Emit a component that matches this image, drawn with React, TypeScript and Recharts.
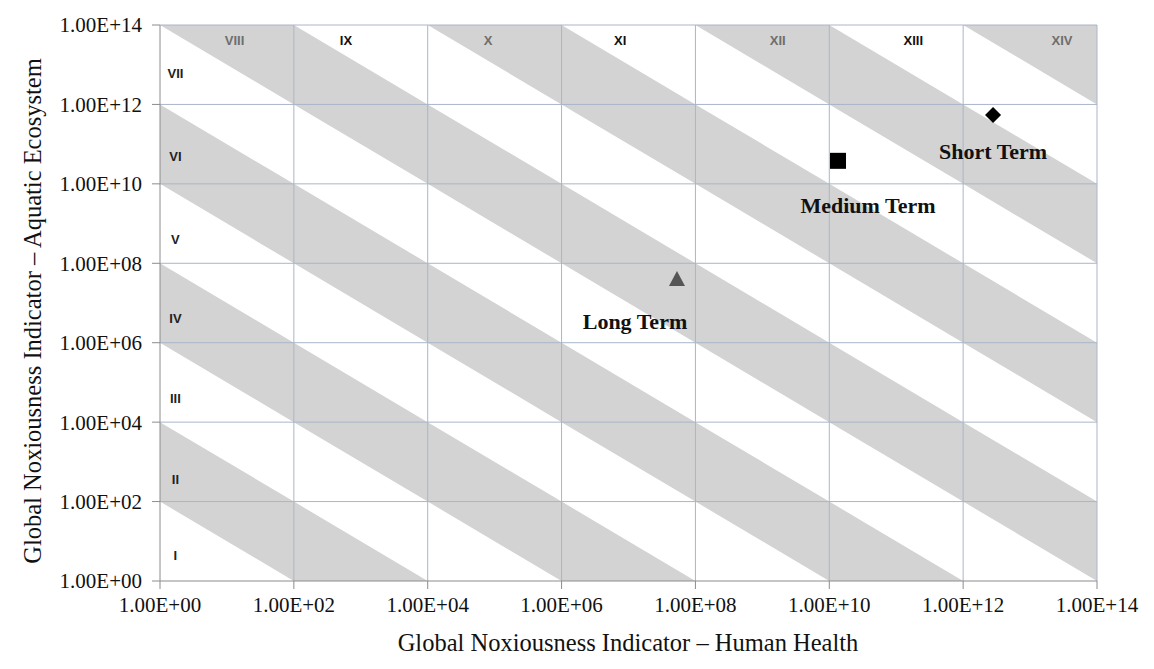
import {
  ComposedChart, Area, Scatter, XAxis, YAxis, ReferenceLine, ReferenceDot,
} from 'recharts';

// axis decades (both axes)
const decadeTicks = [1, 1e2, 1e4, 1e6, 1e8, 1e10, 1e12, 1e14];

// shaded classes, bounds in log10(HH x AE)
const grayClasses = [
  { name: 'II', lo: 2, hi: 4 },
  { name: 'IV', lo: 6, hi: 8 },
  { name: 'VI', lo: 10, hi: 12 },
  { name: 'VIII', lo: 14, hi: 16 },
  { name: 'X', lo: 18, hi: 20 },
  { name: 'XII', lo: 22, hi: 24 },
  { name: 'XIV', lo: 26, hi: 28 },
];

// class labels down the left side (I - VII) and along the top (VIII - XIV)
const sideLabels = ['I', 'II', 'III', 'IV', 'V', 'VI', 'VII'];
const sideLabelY = [4.5, 3.5e2, 4e4, 4e6, 4e8, 5e10, 6e12];
const topLabels = ['VIII', 'IX', 'X', 'XI', 'XII', 'XIII', 'XIV'];
const topLabelX = [1.3e1, 6e2, 8e4, 7.5e6, 1.7e9, 1.8e11, 3e13];

// scenarios
const longTerm = [{ x: 5.3e7, y: 4.0e7, name: 'Long Term' }];
const mediumTerm = [{ x: 1.35e10, y: 3.8e10, name: 'Medium Term' }];
const shortTerm = [{ x: 2.8e12, y: 5.4e11, name: 'Short Term' }];

const SERIF = '"Liberation Serif", "Times New Roman", serif';
const SANS = '"Liberation Sans", Arial, sans-serif';
const GRID = '#a9b6c8';
const AXIS = '#8c8c8c';
const BAND = '#d3d3d3';

const clamp = (v: number) => Math.min(1e14, Math.max(1, v));

const bandRows = decadeTicks.map((x) => {
  const row: Record<string, any> = { x };
  for (const c of grayClasses) row[c.name] = [clamp(10 ** c.lo / x), clamp(10 ** c.hi / x)];
  return row;
});

const fmt = (v: number) => {
  const e = Math.round(Math.log10(v));
  return `1.00E+${String(e).padStart(2, '0')}`;
};

const labelText = (cx: number, cy: number, text: string, dx: number, dy: number) => (
  <text x={cx + dx} y={cy + dy} textAnchor="middle" dominantBaseline="central"
    fontFamily={SERIF} fontWeight="bold" fontSize={22} fill="#111">{text}</text>
);

const TriangleShape = (p: any) => (
  <g>
    <polygon points={`${p.cx},${p.cy - 8} ${p.cx + 8},${p.cy + 7} ${p.cx - 8},${p.cy + 7}`} fill="#555" />
    {labelText(p.cx, p.cy, p.payload.name, -42, 42)}
  </g>
);
const SquareShape = (p: any) => (
  <g>
    <rect x={p.cx - 8} y={p.cy - 8} width={16} height={16} fill="#000" />
    {labelText(p.cx, p.cy, p.payload.name, 30, 45)}
  </g>
);
const DiamondShape = (p: any) => (
  <g>
    <polygon points={`${p.cx},${p.cy - 8} ${p.cx + 8},${p.cy} ${p.cx},${p.cy + 8} ${p.cx - 8},${p.cy}`} fill="#000" />
    {labelText(p.cx, p.cy, p.payload.name, 0, 36)}
  </g>
);

const roman = (text: string, color: string) => (p: any) => (
  <text x={p.cx} y={p.cy} textAnchor="middle" dominantBaseline="central"
    fontFamily={SANS} fontWeight="bold" fontSize={13} fill={color}>{text}</text>
);

export default function App() {
  return (
    <div style={{ position: 'relative', width: 1154, height: 669, margin: -8, background: '#fff' }}>
      <div style={{ position: 'absolute', left: 6, top: 5, width: 1144, height: 660, border: '1px solid #a0a0a0' }} />
      <div style={{ position: 'absolute', left: 0, top: 0 }}>
        <ComposedChart width={1154} height={669} data={bandRows}
          margin={{ top: 25, right: 57, bottom: 28, left: 10 }}>
          {grayClasses.map((c) => (
            <Area key={c.name} dataKey={c.name} type="linear" stroke="none" fill={BAND}
              fillOpacity={1} dot={false} activeDot={false} isAnimationActive={false} />
          ))}
          {decadeTicks.slice(1).map((t) => (
            <ReferenceLine key={'x' + t} x={t} stroke={GRID} strokeWidth={1} />
          ))}
          {decadeTicks.slice(1).map((t) => (
            <ReferenceLine key={'y' + t} y={t} stroke={GRID} strokeWidth={1} />
          ))}
          <XAxis type="number" dataKey="x" scale="log" domain={[1, 1e14]} ticks={decadeTicks}
            allowDataOverflow interval={0} tickFormatter={fmt} height={60} tickSize={8} tickMargin={8}
            stroke={AXIS} tick={{ fontFamily: SERIF, fontSize: 21, fill: '#111' }}
            label={{
              content: () => (
                <text x={628} y={651} textAnchor="middle" fontFamily={SERIF} fontSize={24.5} fill="#111">
                  Global Noxiousness Indicator – Human Health
                </text>
              ),
            }} />
          <YAxis type="number" scale="log" domain={[1, 1e14]} ticks={decadeTicks}
            allowDataOverflow interval={0} tickFormatter={fmt} width={150} tickSize={8} tickMargin={10}
            stroke={AXIS} tick={{ fontFamily: SERIF, fontSize: 21, fill: '#111' }}
            label={{
              content: () => (
                <text x={41} y={311} transform="rotate(-90 41 311)" textAnchor="middle"
                  fontFamily={SERIF} fontSize={24.5} fill="#111">
                  Global Noxiousness Indicator – Aquatic Ecosystem
                </text>
              ),
            }} />
          {sideLabels.map((l, i) => (
            <ReferenceDot key={'s' + l} x={1.7} y={sideLabelY[i]} r={0} shape={roman(l, '#222')} />
          ))}
          {topLabels.map((l, i) => (
            <ReferenceDot key={'t' + l} x={topLabelX[i]} y={4e13} r={0}
              shape={roman(l, i % 2 === 0 ? '#6e6e6e' : '#111')} />
          ))}
          <Scatter data={longTerm} dataKey="y" shape={TriangleShape} isAnimationActive={false} />
          <Scatter data={mediumTerm} dataKey="y" shape={SquareShape} isAnimationActive={false} />
          <Scatter data={shortTerm} dataKey="y" shape={DiamondShape} isAnimationActive={false} />
        </ComposedChart>
      </div>
    </div>
  );
}
